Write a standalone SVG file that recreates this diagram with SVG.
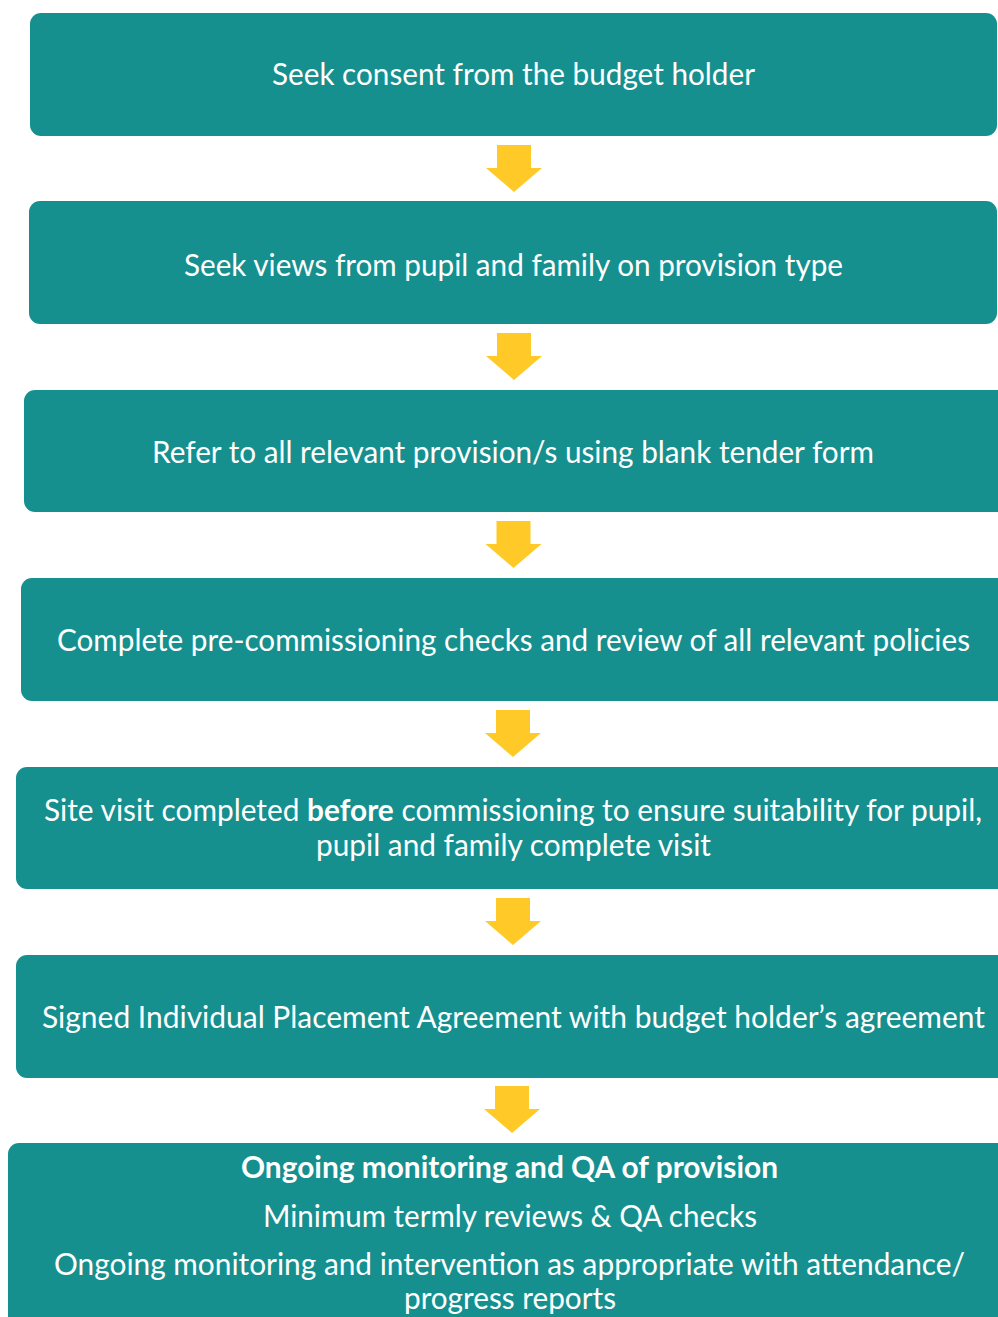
<svg xmlns="http://www.w3.org/2000/svg" width="998" height="1317" viewBox="0 0 998 1317">
  <style>
    .box { fill: #15908F; }
    .lbl { font-family: Lato, "Open Sans", "Liberation Sans", sans-serif; font-size: 30px; fill: #FFFFFF; text-anchor: middle; }
    .b { font-weight: 700; }
    .arrow { fill: #FFCA28; }
  </style>
  <defs>
    <!-- block arrow pointing down, tip at origin -->
    <path id="down" d="M -17 -47 L 17 -47 L 17 -24 L 28 -24 L 0 0 L -28 -24 L -17 -24 Z"/>
  </defs>
  <rect width="998" height="1317" fill="#FFFFFF"/>

  <g id="connectors">
    <use href="#down" class="arrow" x="514" y="192"/>
    <use href="#down" class="arrow" x="514" y="380"/>
    <use href="#down" class="arrow" x="513.5" y="568"/>
    <use href="#down" class="arrow" x="513" y="757"/>
    <use href="#down" class="arrow" x="513" y="945"/>
    <use href="#down" class="arrow" x="512" y="1133"/>
  </g>

  <g id="step-consent">
    <rect class="box" x="30" y="13" width="967" height="123" rx="11"/>
    <text class="lbl" x="513.5" y="85" textLength="483" lengthAdjust="spacingAndGlyphs">Seek consent from the budget holder</text>
  </g>

  <g id="step-views">
    <rect class="box" x="29" y="201" width="968" height="123" rx="11"/>
    <text class="lbl" x="513.5" y="276" textLength="659" lengthAdjust="spacingAndGlyphs">Seek views from pupil and family on provision type</text>
  </g>

  <g id="step-refer">
    <rect class="box" x="24" y="390" width="990" height="122" rx="11"/>
    <text class="lbl" x="513" y="463" textLength="722" lengthAdjust="spacingAndGlyphs">Refer to all relevant provision/s using blank tender form</text>
  </g>

  <g id="step-checks">
    <rect class="box" x="21" y="578" width="990" height="123" rx="11"/>
    <text class="lbl" x="513.5" y="651" textLength="913" lengthAdjust="spacingAndGlyphs">Complete pre-commissioning checks and review of all relevant policies</text>
  </g>

  <g id="step-site-visit">
    <rect class="box" x="16" y="767" width="995" height="122" rx="11"/>
    <text class="lbl" x="513" y="821" textLength="938" lengthAdjust="spacingAndGlyphs">Site visit completed <tspan class="b">before</tspan> commissioning to ensure suitability for pupil,</text>
    <text class="lbl" x="513.5" y="856" textLength="395" lengthAdjust="spacingAndGlyphs">pupil and family complete visit</text>
  </g>

  <g id="step-agreement">
    <rect class="box" x="16" y="955" width="995" height="123" rx="11"/>
    <text class="lbl" x="513.5" y="1028" textLength="943" lengthAdjust="spacingAndGlyphs">Signed Individual Placement Agreement with budget holder&#8217;s agreement</text>
  </g>

  <g id="step-monitoring">
    <rect class="box" x="8" y="1143" width="1003" height="190" rx="11"/>
    <text class="lbl b" x="509.5" y="1178" textLength="537" lengthAdjust="spacingAndGlyphs">Ongoing monitoring and QA of provision</text>
    <text class="lbl" x="510" y="1227" textLength="494" lengthAdjust="spacingAndGlyphs">Minimum termly reviews &amp; QA checks</text>
    <text class="lbl" x="509.5" y="1275" textLength="911" lengthAdjust="spacingAndGlyphs">Ongoing monitoring and intervention as appropriate with attendance/</text>
    <text class="lbl" x="510" y="1309" textLength="212" lengthAdjust="spacingAndGlyphs">progress reports</text>
  </g>
</svg>
